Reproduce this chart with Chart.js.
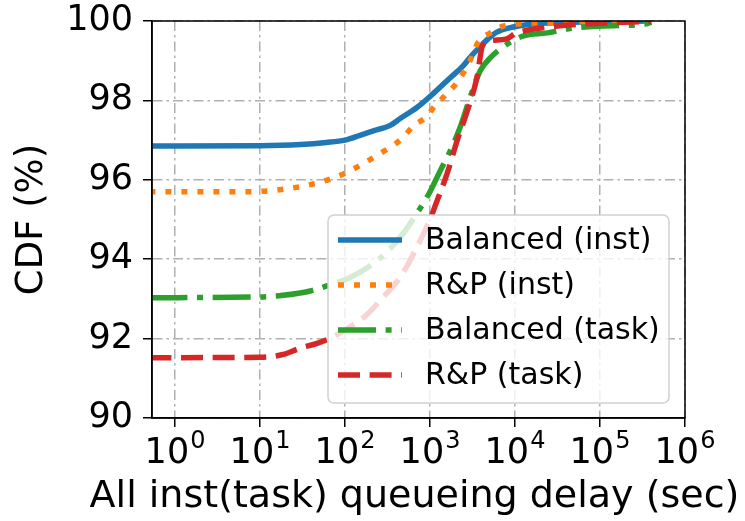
<!DOCTYPE html>
<html>
<head>
<meta charset="utf-8">
<script src="https://cdn.jsdelivr.net/npm/chart.js@4/dist/chart.umd.min.js"></script>
<style>
    html, body { margin: 0; padding: 0; background: #fff; }
    canvas { display: block; }
</style>
</head>
<body>
<canvas id="cdf-chart" width="745" height="521"></canvas>
<script>
// tick positions
const xTicks = [1, 10, 100, 1000, 1e4, 1e5, 1e6];
const yTicks = [90, 92, 94, 96, 98, 100];

const seriesNames = ['Balanced (inst)', 'R&P (inst)', 'Balanced (task)', 'R&P (task)'];
const xTitle = 'All inst(task) queueing delay (sec)';
const yTitle = 'CDF (%)';

// Balanced (inst)
const balancedInstX = [0.5, 10, 30, 60, 100, 150, 220, 340, 450, 700, 1090, 1730, 2450, 3000, 3880, 5000, 6100, 9500, 15000, 40000, 100000, 400000];
const balancedInstY = [96.85, 96.86, 96.89, 96.94, 97.0, 97.12, 97.24, 97.37, 97.55, 97.82, 98.17, 98.57, 98.87, 99.1, 99.35, 99.58, 99.72, 99.85, 99.92, 99.96, 99.98, 100];

// R&P (inst)
const rpInstX = [0.5, 7.6, 17, 39, 76, 115, 240, 480, 630, 920, 1100, 1500, 2080, 2960, 3660, 5100, 7200, 11500, 30000, 100000, 400000];
const rpInstY = [95.7, 95.7, 95.75, 95.88, 96.06, 96.23, 96.62, 97.06, 97.35, 97.6, 97.82, 98.12, 98.45, 99.0, 99.45, 99.7, 99.87, 99.93, 99.97, 99.99, 100];

// Balanced (task)
const balancedTaskX = [0.5, 10, 18.6, 39, 72, 115, 240, 445, 700, 1000, 1300, 1730, 2250, 2960, 3880, 5100, 8100, 12400, 24000, 41000, 92000, 355000, 400000];
const balancedTaskY = [93.03, 93.05, 93.09, 93.2, 93.38, 93.54, 93.97, 94.55, 95.15, 95.7, 96.2, 96.73, 97.31, 98.07, 98.74, 99.07, 99.42, 99.62, 99.7, 99.8, 99.87, 99.93, 99.97];

// R&P (task)
const rpTaskX = [0.5, 10, 18.6, 29.6, 47, 72, 115, 180, 280, 445, 700, 1000, 1200, 1585, 2080, 2750, 3560, 4150, 5000, 8000, 10000, 14000, 30000, 58000, 150000, 400000];
const rpTaskY = [91.52, 91.53, 91.6, 91.76, 91.88, 92.04, 92.3, 92.6, 93.04, 93.54, 94.3, 95.0, 95.45, 96.15, 96.98, 97.74, 98.57, 99.38, 99.5, 99.55, 99.68, 99.77, 99.87, 99.92, 99.96, 99.99];

const FONT = '"DejaVu Sans", "Liberation Sans", sans-serif';

function toPoints(xs, ys) {
    return xs.map((x, i) => ({ x: x, y: ys[i] }));
}

// 10^n tick labels with superscript, and the x title (drawn here so it is not squeezed)
const xTickLabels = {
    id: 'xTickLabels',
    afterDraw(chart) {
        const ctx = chart.ctx;
        const scale = chart.scales.x;
        ctx.save();
        ctx.fillStyle = '#000';
        ctx.textAlign = 'left';
        ctx.textBaseline = 'alphabetic';
        xTicks.forEach(v => {
            const px = scale.getPixelForValue(v);
            const exp = String(Math.round(Math.log10(v)));
            ctx.font = '35px ' + FONT;
            const wb = ctx.measureText('10').width;
            ctx.font = '24px ' + FONT;
            const we = ctx.measureText(exp).width;
            const x0 = px - (wb + we + 1) / 2;
            ctx.font = '35px ' + FONT;
            ctx.fillText('10', x0, 463);
            ctx.font = '24px ' + FONT;
            ctx.fillText(exp, x0 + wb + 1, 448);
        });
        ctx.font = '38px ' + FONT;
        ctx.textAlign = 'center';
        ctx.fillText(xTitle, (scale.left + scale.right) / 2 - 4, 507);
        ctx.restore();
    }
};

// legend box inside the plot + frame
const boxLegend = {
    id: 'boxLegend',
    afterDraw(chart) {
        const ctx = chart.ctx;
        const area = chart.chartArea;
        const w = 341, h = 188;
        const left = area.right - 16 - w;
        const top = area.bottom - 15 - h;

        ctx.save();
        ctx.beginPath();
        ctx.roundRect(left, top, w, h, 6);
        ctx.fillStyle = 'rgba(255,255,255,0.8)';
        ctx.fill();
        ctx.strokeStyle = 'rgba(204,204,204,0.9)';
        ctx.lineWidth = 1.5;
        ctx.stroke();

        chart.data.datasets.forEach((ds, i) => {
            const y = top + 25 + i * 45;
            ctx.beginPath();
            ctx.setLineDash(ds.borderDash || []);
            ctx.lineCap = 'butt';
            ctx.lineWidth = ds.borderWidth;
            ctx.strokeStyle = ds.borderColor;
            ctx.moveTo(left + 10, y);
            ctx.lineTo(left + 74, y);
            ctx.stroke();
            ctx.setLineDash([]);
            ctx.fillStyle = '#000';
            ctx.font = '30px ' + FONT;
            ctx.textAlign = 'left';
            ctx.textBaseline = 'middle';
            ctx.fillText(ds.label, left + 97, y + 1);
        });

        ctx.strokeStyle = '#000';
        ctx.lineWidth = 1.5;
        ctx.setLineDash([]);
        ctx.strokeRect(area.left, area.top, area.right - area.left, area.bottom - area.top);
        ctx.restore();
    }
};

const gridOpts = {
    color: '#b0b0b0',
    lineWidth: 1.5,
    tickColor: '#000',
    tickWidth: 1.5,
    tickLength: 9,
    tickBorderDash: []
};
const borderOpts = {
    display: true,
    color: '#000',
    width: 1.5,
    dash: [10, 4, 2.5, 4]
};

const ctx = document.getElementById('cdf-chart');
new Chart(ctx, {
    type: 'line',
    data: {
        datasets: [
            {
                label: seriesNames[0],
                data: toPoints(balancedInstX, balancedInstY),
                borderColor: '#1f77b4',
                borderWidth: 5.5,
                order: 3,
            },
            {
                label: seriesNames[1],
                data: toPoints(rpInstX, rpInstY),
                borderColor: '#ff7f0e',
                borderWidth: 5.5,
                borderDash: [6, 10],
                order: 2,
            },
            {
                label: seriesNames[2],
                data: toPoints(balancedTaskX, balancedTaskY),
                borderColor: '#2ca02c',
                borderWidth: 5.5,
                borderDash: [38, 9.6, 6, 9.6],
                order: 1,
            },
            {
                label: seriesNames[3],
                data: toPoints(rpTaskX, rpTaskY),
                borderColor: '#d62728',
                borderWidth: 5.5,
                borderDash: [22, 9.6],
                order: 0,
            },
        ],
    },
    options: {
        responsive: false,
        animation: false,
        devicePixelRatio: 1,
        layout: {
            padding: { top: 21, right: 60, left: 0, bottom: 0 },
        },
        elements: {
            point: { radius: 0 },
            line: { cubicInterpolationMode: 'monotone', borderCapStyle: 'butt', fill: false },
        },
        plugins: {
            legend: { display: false },
            tooltip: { enabled: false },
        },
        scales: {
            x: {
                type: 'logarithmic',
                min: 0.536,
                max: 1e6,
                afterBuildTicks: scale => { scale.ticks = xTicks.map(v => ({ value: v })); },
                afterFit: scale => {
                    scale.height = 103;
                    scale.paddingLeft = 0;
                    scale.paddingRight = 0;
                },
                ticks: { display: false },
                grid: gridOpts,
                border: borderOpts,
            },
            y: {
                min: 90,
                max: 100,
                afterBuildTicks: scale => { scale.ticks = yTicks.map(v => ({ value: v })); },
                afterFit: scale => {
                    scale.width = 152;
                    scale.paddingTop = 0;
                    scale.paddingBottom = 0;
                },
                ticks: {
                    color: '#000',
                    font: { family: FONT, size: 35 },
                    padding: 10,
                    callback: v => String(v),
                },
                grid: gridOpts,
                border: borderOpts,
                title: {
                    display: true,
                    text: yTitle,
                    color: '#000',
                    font: { family: FONT, size: 37 },
                    padding: { top: 10, bottom: 0 },
                },
            },
        },
    },
    plugins: [xTickLabels, boxLegend],
});
</script>
</body>
</html>
